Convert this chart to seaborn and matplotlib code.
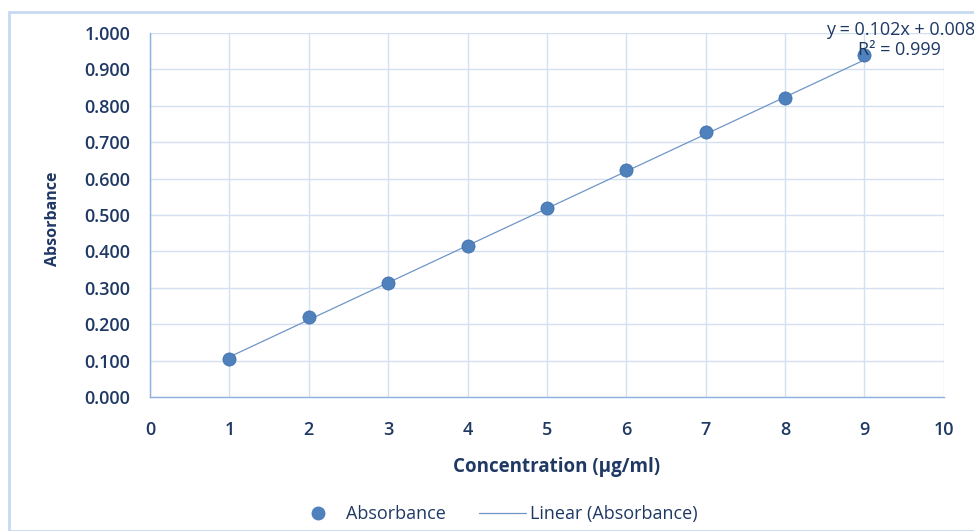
import numpy as np
import pandas as pd
import matplotlib
matplotlib.use('Agg')
import matplotlib.pyplot as plt
import seaborn as sns
from matplotlib.patches import Rectangle
from matplotlib.lines import Line2D

concentration = [1, 2, 3, 4, 5, 6, 7, 8, 9]
absorbance = [0.104, 0.220, 0.313, 0.415, 0.519, 0.624, 0.728, 0.821, 0.940]
slope = 0.102
intercept = 0.008

df = pd.DataFrame({'conc': concentration, 'abs': absorbance})

sns.set_style('white')
plt.rcParams['font.family'] = ['Open Sans', 'DejaVu Sans']

txt = '#1F3864'
dot = '#4F81BD'
grid = '#D3E0F2'

fig = plt.figure(figsize=(9.74, 5.31), dpi=100)
ax = fig.add_axes([0.154, 0.2524, 0.815, 0.6855])

# outer chart border
fig.patches.append(Rectangle((9 / 974, 0), 1.2, 1 - 12 / 531, transform=fig.transFigure,
                             fill=False, edgecolor='#C6D9F1', linewidth=2))

# trendline
xs = np.array([concentration[0], concentration[-1]])
ax.plot(xs, slope * xs + intercept, color='#6F95C8', linewidth=0.9, zorder=2)

sns.scatterplot(data=df, x='conc', y='abs', ax=ax, color=dot, s=90,
                edgecolor='#3A6AA8', linewidth=0.5, zorder=3, legend=False)

ax.set_xlim(0, 10)
ax.set_ylim(0, 1.0)
ax.set_xticks(range(0, 11))
ax.set_yticks(np.arange(0, 1.01, 0.1))
ax.set_yticklabels([f'{v:.3f}' for v in np.arange(0, 1.01, 0.1)])
ax.grid(True, color=grid, linewidth=1)
ax.set_axisbelow(True)
for s in ['top', 'right']:
    ax.spines[s].set_visible(False)
for s in ['left', 'bottom']:
    ax.spines[s].set_color('#8EB0DE')
    ax.spines[s].set_linewidth(1)
ax.tick_params(axis='both', length=0, colors=txt, labelsize=13)
ax.tick_params(axis='x', pad=17)
ax.tick_params(axis='y', pad=14)
for lab in ax.get_xticklabels() + ax.get_yticklabels():
    lab.set_fontweight('semibold')

ax.set_xlabel('Concentration (µg/ml)', color=txt, fontsize=13.5, fontweight='bold')
ax.xaxis.set_label_coords(0.512, -0.165)
ax.set_ylabel('Absorbance', color=txt, fontsize=11.5, fontweight='bold')
ax.yaxis.set_label_coords(-0.112, 0.49)

fig.text(975 / 974, 1 - 30 / 531, 'y = 0.102x + 0.008', ha='right', va='center',
         color=txt, fontsize=13)
fig.text(941 / 974, 1 - 50 / 531, 'R² = 0.999', ha='right', va='center',
         color=txt, fontsize=13)

handles = [Line2D([], [], marker='o', linestyle='none', color=dot, markersize=9),
           Line2D([], [], color='#6F95C8', linewidth=0.9)]
fig.legend(handles, ['Absorbance', 'Linear (Absorbance)'], loc='center left',
           bbox_to_anchor=(295 / 974, 1 - 514 / 531), ncol=2, frameon=False,
           fontsize=13, labelcolor=txt, handlelength=2.6, handletextpad=0.25,
           columnspacing=1.8, borderpad=0, borderaxespad=0)

fig.savefig('out.png', dpi=100)
